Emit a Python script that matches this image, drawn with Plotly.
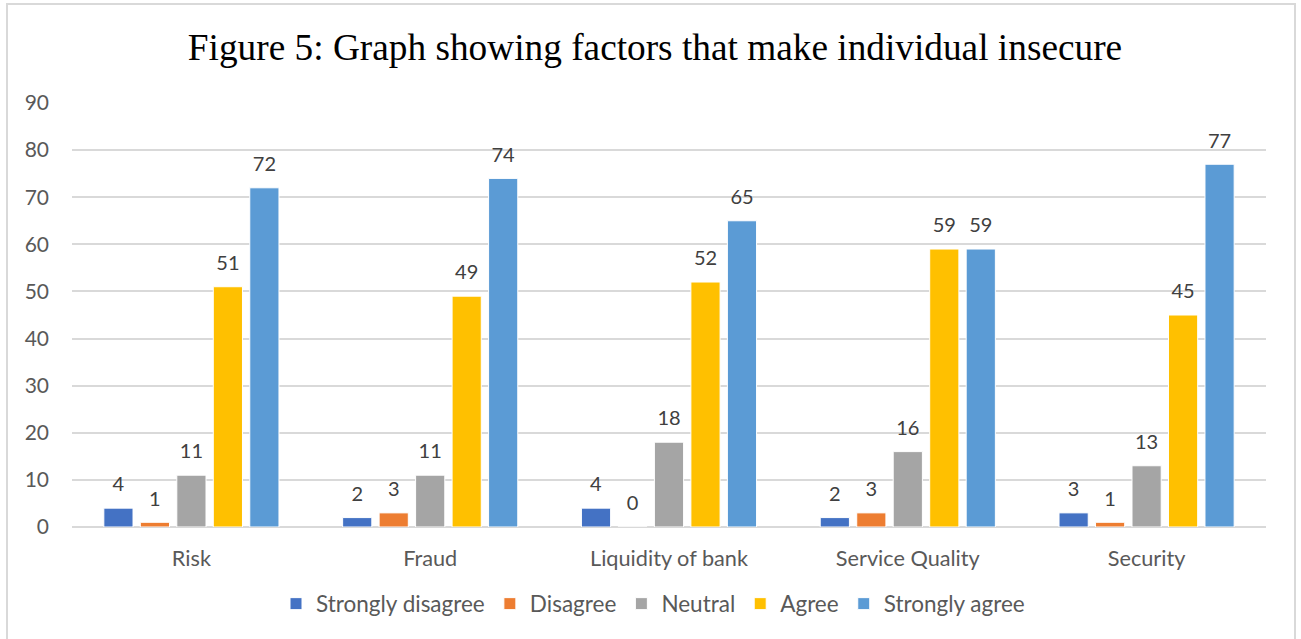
import plotly.graph_objects as go

categories = ["Risk", "Fraud", "Liquidity of bank", "Service Quality", "Security"]

strongly_disagree = [4, 2, 4, 2, 3]
disagree = [1, 3, 0, 3, 1]
neutral = [11, 11, 18, 16, 13]
agree = [51, 49, 52, 59, 45]
strongly_agree = [72, 74, 65, 59, 77]

series_names = ["Strongly disagree", "Disagree", "Neutral", "Agree", "Strongly agree"]
series_values = [strongly_disagree, disagree, neutral, agree, strongly_agree]
series_colors = ["#4472C4", "#ED7D31", "#A5A5A5", "#FFC000", "#5B9BD5"]

y_ticks = list(range(0, 91, 10))

W, H = 1301, 639
L, R, T, B = 72, 35, 103, 112
pw, ph = W - L - R, H - T - B

LABEL_FONT = "Lato, 'Open Sans', sans-serif"

fig = go.Figure()
for name, vals, col in zip(series_names, series_values, series_colors):
    fig.add_trace(go.Bar(
        name=name,
        x=categories,
        y=vals,
        marker=dict(color=col, line=dict(color="white", width=1)),
        # value label, lifted off the bar top by a short blank line
        text=[f"<span style='font-size:20px'>{v}</span><br> " for v in vals],
        textposition="outside",
        textfont=dict(family=LABEL_FONT, size=9, color="#404040"),
        cliponaxis=False,
        hoverinfo="x+y+name",
    ))

# outer chart frame
fig.add_shape(
    type="rect", xref="paper", yref="paper",
    x0=(7 - L) / pw, x1=(1295 - L) / pw,
    y0=-0.4, y1=(H - B - 4) / ph,
    line=dict(color="#D9D9D9", width=2), fillcolor="rgba(0,0,0,0)", layer="below",
)

fig.update_layout(
    width=W, height=H,
    margin=dict(l=L, r=R, t=T, b=B, pad=0),
    paper_bgcolor="white", plot_bgcolor="white",
    barmode="group",
    bargap=0.236,
    bargroupgap=0.2,
    title=dict(
        text="Figure 5: Graph showing factors that make individual insecure",
        x=655 / W, xanchor="center",
        y=1 - 47 / H, yanchor="middle",
        font=dict(family="'Liberation Serif', 'Times New Roman', serif", size=37.3, color="black"),
    ),
    xaxis=dict(
        showgrid=False, showline=False, zeroline=False,
        ticks="", ticklabelstandoff=16,
        tickfont=dict(family=LABEL_FONT, size=21.7, color="#595959"),
    ),
    yaxis=dict(
        range=[0, 90], tickvals=y_ticks,
        showgrid=True, gridcolor="#D9D9D9", gridwidth=1.5,
        zeroline=True, zerolinecolor="#D9D9D9", zerolinewidth=1.5,
        showline=False, ticks="", ticklabelstandoff=22,
        tickfont=dict(family=LABEL_FONT, size=21, color="#595959"),
    ),
    legend=dict(
        orientation="h",
        x=(653 - L) / pw, xanchor="center",
        y=-(604 - (H - B)) / ph, yanchor="middle",
        font=dict(family=LABEL_FONT, size=22.5, color="#595959"),
        itemwidth=30,
        traceorder="normal",
    ),
    showlegend=True,
)

fig.write_html("out.html")
